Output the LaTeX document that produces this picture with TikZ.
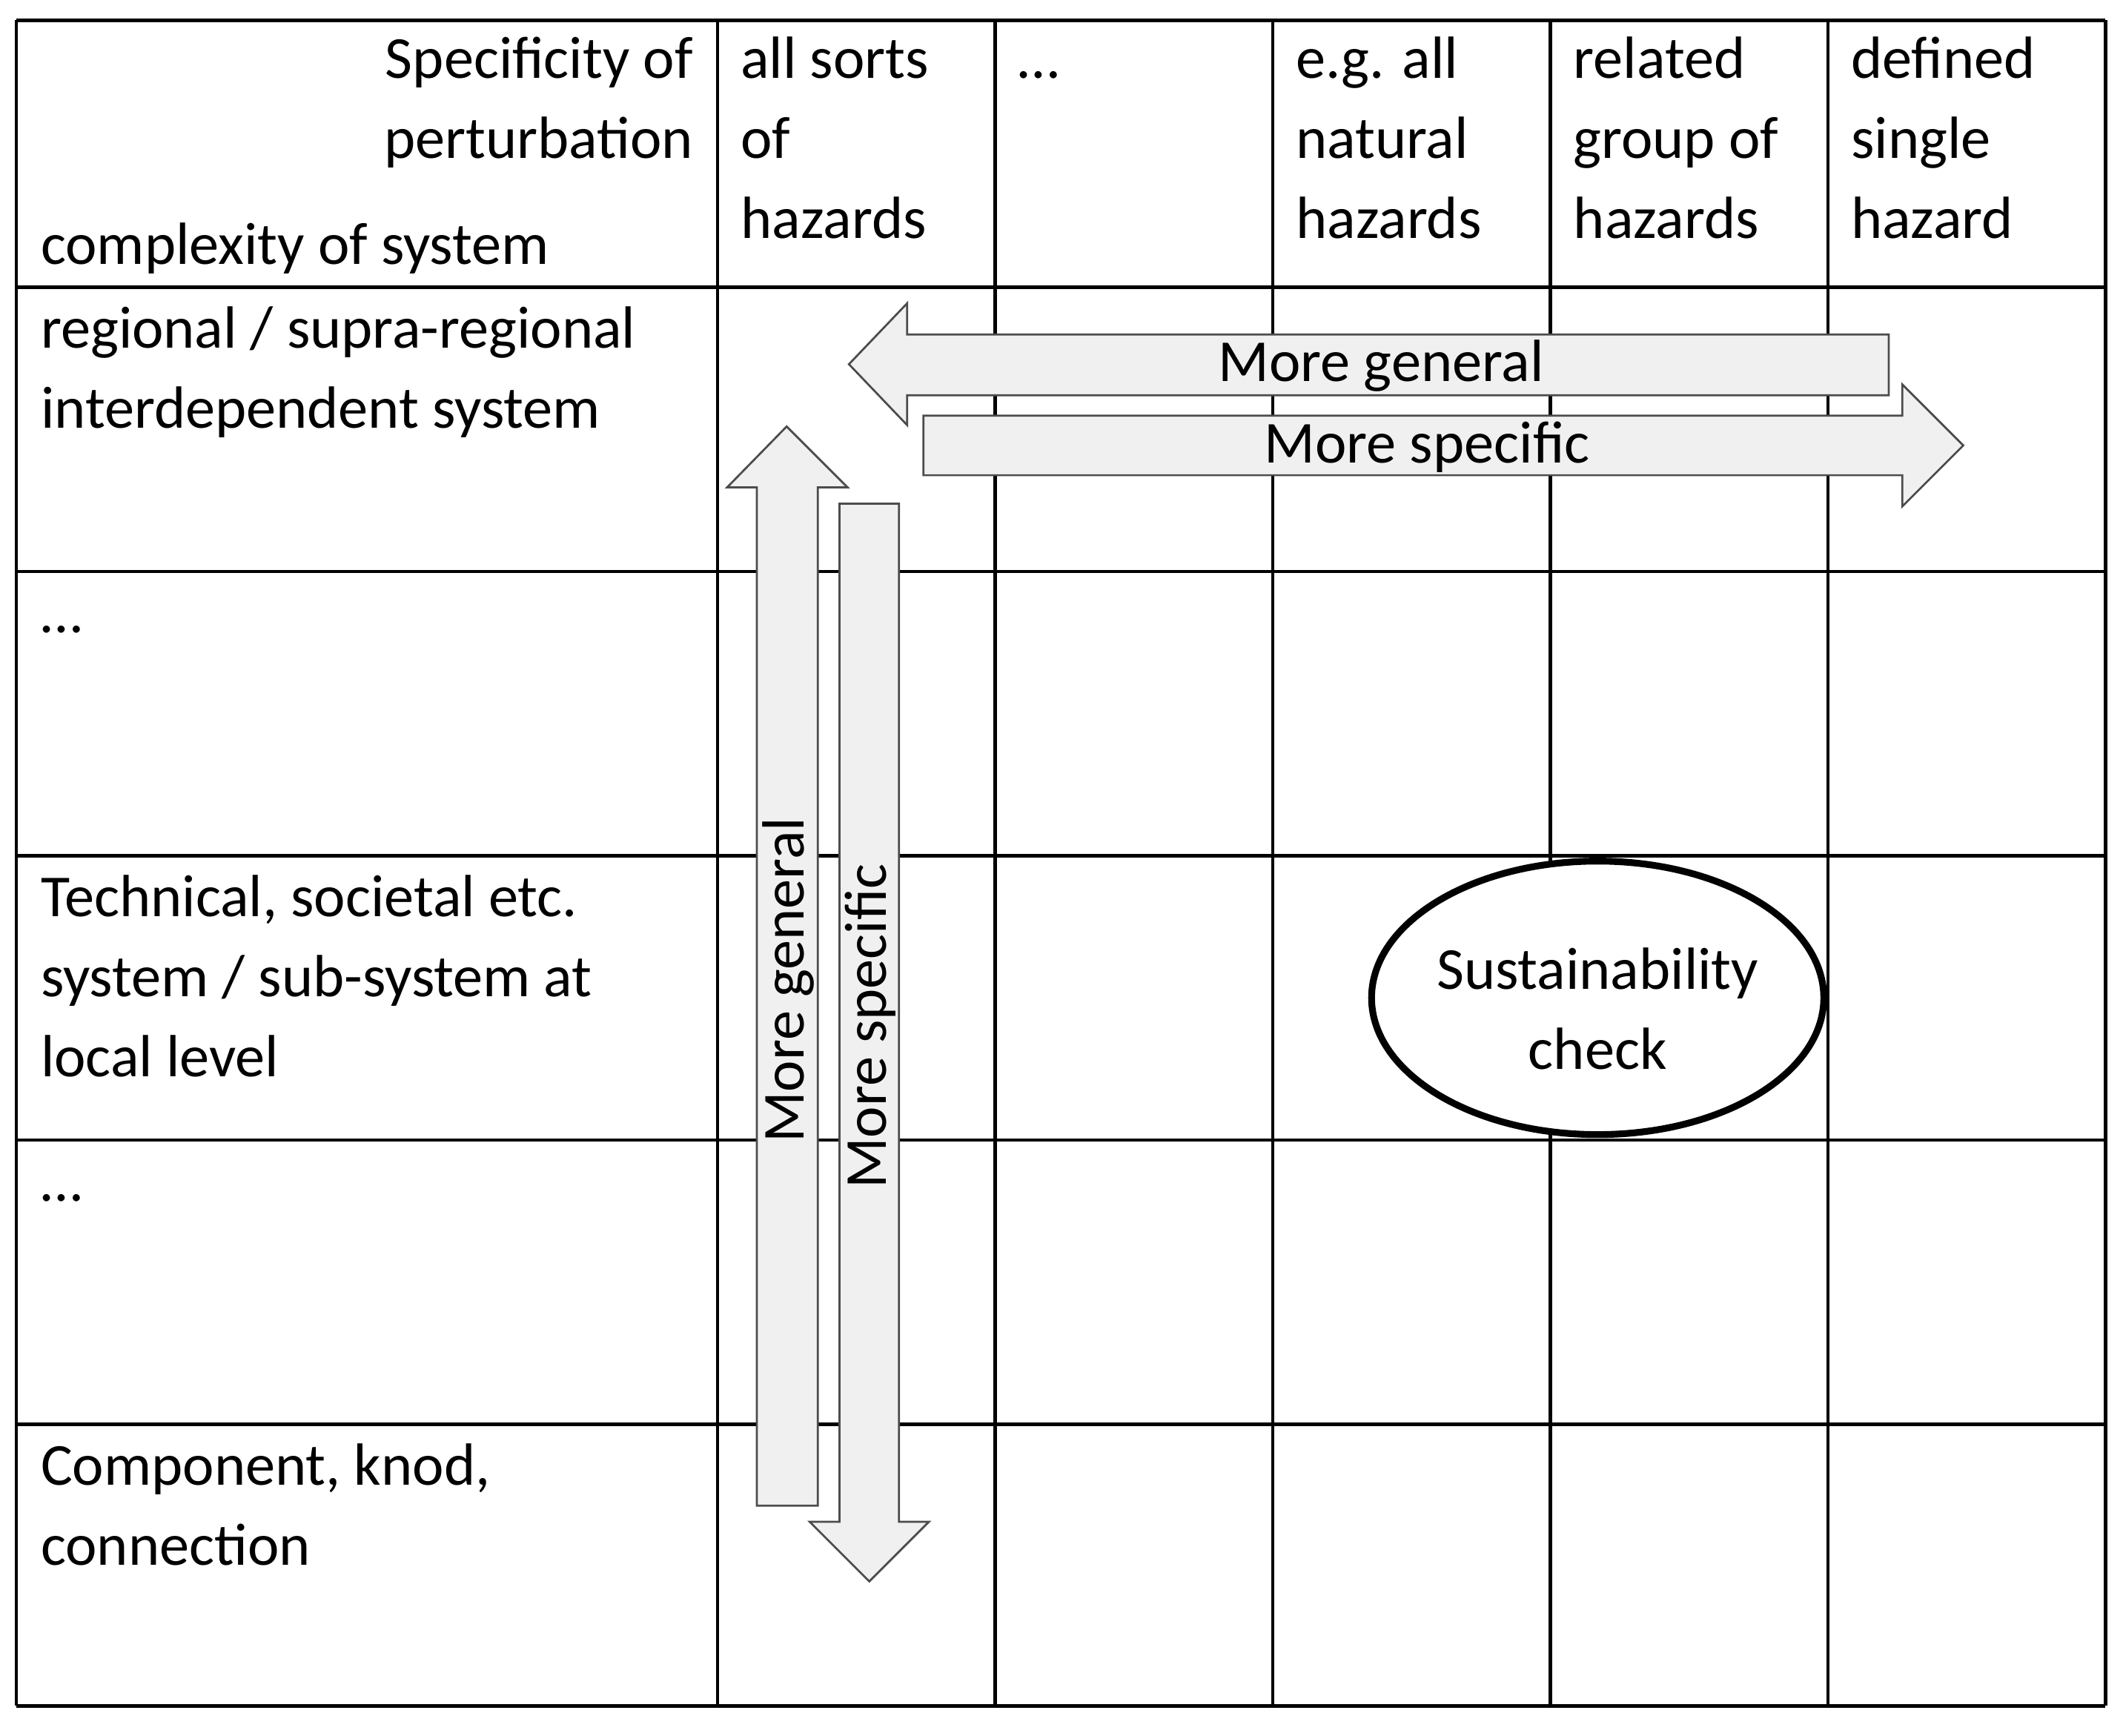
\documentclass[tikz,border=0pt]{standalone}
\usepackage{fontspec}
\setmainfont{Carlito}
\begin{document}
\begin{tikzpicture}[x=1pt,y=-1pt,
  txt/.style={inner sep=0pt,anchor=base west,font=\fontsize{44}{59}\selectfont},
  grid/.style={line width=2.5pt},
  arr/.style={fill=black!6,draw=black!70,line width=1.5pt,line join=miter}]
\useasboundingbox (0,0) rectangle (1568,1282);
% table
\foreach \x in {12,530,735,940,1145,1350,1555} \draw[grid] (\x,15) -- (\x,1260);
\foreach \y in {15,212,422,632,842,1052,1260} \draw[grid] (12,\y) -- (1555,\y);
% header
\node[txt,anchor=base east] (sp1) at (512,58) {Specificity of};
\node[txt,anchor=base east] (sp2) at (512,117) {perturbation};
\node[txt] (cx) at (30,195) {complexity of system};
\foreach \c/\a/\b/\d [count=\i] in {547/all sorts/of/hazards,752/\dots//,957/e.g. all/natural/hazards,1162/related/group of/hazards,1367/defined/single/hazard}{
  \node[txt] (h\i a) at (\c,58) {\a};
  \node[txt] (h\i b) at (\c,117) {\b};
  \node[txt] (h\i c) at (\c,176) {\d};
}
% rows
\node[txt] (r1a) at (30,257) {regional / supra-regional};
\node[txt] (r1b) at (30,316) {interdependent system};
\node[txt] (r2) at (30,467) {\dots};
\node[txt] (r3a) at (30,677) {Technical, societal etc.};
\node[txt] (r3b) at (30,736) {system / sub-system at};
\node[txt] (r3c) at (30,795) {local level};
\node[txt] (r4) at (30,887) {\dots};
\node[txt] (r5a) at (30,1097) {Component, knod,};
\node[txt] (r5b) at (30,1156) {connection};
% arrows
\draw[arr] (627,269) -- (670,224) -- (670,247) -- (1395,247) -- (1395,292) -- (670,292) -- (670,314) -- cycle;
\draw[arr] (1450,329) -- (1405,284) -- (1405,307) -- (682,307) -- (682,351) -- (1405,351) -- (1405,374) -- cycle;
\draw[arr] (581,315) -- (626,360) -- (604,360) -- (604,1112) -- (559,1112) -- (559,360) -- (537,360) -- cycle;
\draw[arr] (642,1168) -- (686,1124) -- (664,1124) -- (664,372) -- (620,372) -- (620,1124) -- (598,1124) -- cycle;
\node[txt,anchor=center] (mg) at (1020,270) {More general};
\node[txt,anchor=center] (ms) at (1054,330) {More specific};
\node[txt,anchor=center,rotate=90] (vg) at (582,724) {More general};
\node[txt,anchor=center,rotate=90] (vs) at (643,758) {More specific};
% ellipse
\draw[line width=5pt,fill=white] (1180,737) ellipse [x radius=167, y radius=101];
\node[txt,anchor=center,align=center] (sc) at (1180,745) {Sustainability\\check};
\end{tikzpicture}
\end{document}
